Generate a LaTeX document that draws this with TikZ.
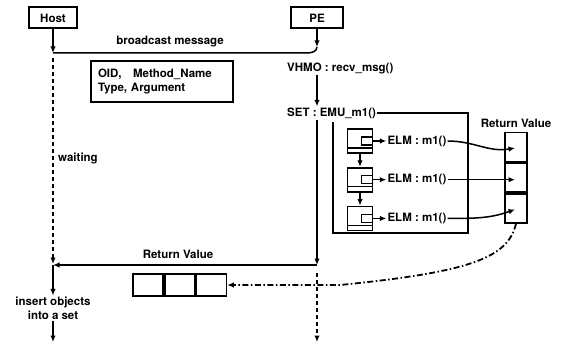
\documentclass[tikz,border=0pt]{standalone}
\usepackage{fontspec}
\setmainfont{TeX Gyre Heros}
\usetikzlibrary{positioning,calc,arrows.meta}

\begin{document}
\begin{tikzpicture}[
    x=1pt, y=-1pt,
    every node/.style={font=\fontsize{11.5}{14}\selectfont\bfseries, inner sep=1pt},
    head/.style={rectangle, draw, line width=2pt, minimum width=#1, minimum height=21pt},
    msgbox/.style={rectangle, draw, line width=2pt, align=left, text width=128pt,
                   inner xsep=7pt, inner ysep=8pt},
    frame/.style={line width=1.8pt},
    sbox/.style={rectangle, draw, line width=1.7pt, minimum width=25pt, minimum height=24pt,
                 path picture={
                   \draw[line width=1.3pt] ([yshift=5pt]path picture bounding box.south west)
                        -- ([yshift=5pt]path picture bounding box.south east);
                   \draw[line width=1.3pt] ([yshift=4pt]path picture bounding box.east)
                        -- ++(-11pt,0pt) -- ++(0pt,-8pt) -- ++(11pt,0pt);}},
    vcell/.style={rectangle, draw, line width=1.7pt, minimum width=22pt, minimum height=29pt},
    hcell/.style={rectangle, draw, line width=1.7pt, minimum width=30pt, minimum height=22pt},
    arr/.style={-{Latex[length=6.5pt,width=5.5pt]}, line width=1.5pt},
    plain/.style={line width=1.5pt},
    wait/.style={line width=2pt, dash pattern=on 4pt off 3pt},
    retn/.style={-{Latex[length=6.5pt,width=5.5pt]}, line width=1.8pt,
                 dash pattern=on 6pt off 2.5pt on 1.5pt off 2.5pt}
]
\useasboundingbox (0,0) rectangle (567,347);

% Lifeline heads
\node[head=48pt] (host) at (53,18) {Host};
\node[head=52pt] (pe) at (317,18) {PE};

% Broadcast from host to PE
\coordinate (hsend) at (53,53);
\coordinate (precv) at (317,47);
\draw[arr] (host) -- (hsend);
\draw[arr] (pe) -- (precv);
\draw[plain] (hsend) -- ($(hsend -| pe)+(-10,0)$) to[out=0,in=-90] (precv);
\node (bclbl) at (170,42) {broadcast message};
\node[msgbox, anchor=north west] (msg) at (90,60) {OID,\quad Method\_Name\\Type, Argument};

% PE side: receive and set
\node[anchor=west] (vhmo) at (286,68) {VHMO : recv\_msg()};
\node[anchor=west] (set) at (286,113) {SET : EMU\_m1()};
\draw[arr] (vhmo.south -| pe) -- (set.north -| pe);
\draw[frame] (set.east) -| (468,233) -| (333,122);

% Elements of the set
\node[sbox] (sb1) at (360,141) {};
\node[sbox, below=13pt of sb1] (sb2) {};
\node[sbox, below=13pt of sb2] (sb3) {};
\draw[arr] (sb1) -- (sb2);
\draw[arr] (sb2) -- (sb3);
\node[right=13pt of sb1] (elm1) {ELM : m1()};
\node[right=13pt of sb2] (elm2) {ELM : m1()};
\node[right=13pt of sb3] (elm3) {ELM : m1()};
\draw[arr] (sb1) -- (elm1);
\draw[arr] (sb2) -- (elm2);
\draw[arr] (sb3) -- (elm3);

% Return value column
\node[vcell] (rv1) at (516,147) {};
\node[vcell, anchor=north] (rv2) at (rv1.south) {};
\node[vcell, anchor=north] (rv3) at (rv2.south) {};
\node[above=3pt of rv1] (rvlbl) {Return Value};
\draw[arr] (elm1) to[out=0,in=190] ($(rv1.center)+(-1,1)$);
\draw[arr] (elm2) to[out=0,in=180] ($(rv2.center)+(-1,2)$);
\draw[arr] (elm3) to[out=0,in=200] ($(rv3.center)+(-1,1)$);

% Return to host
\coordinate (pret) at (317,265);
\coordinate (hret) at (53,265);
\coordinate (peend) at (317,342);
\coordinate (hend) at (53,342);
\draw[arr] (set.south -| pe) -- (pret);
\draw[arr] (pret) -- (hret);
\node (retlbl) at (178,254) {Return Value};
\draw[wait, -{Latex[length=6.5pt,width=5.5pt]}] ($(pret)+(0,8)$) -- (peend);

% Host waits and inserts
\draw[wait, -{Latex[length=6.5pt,width=5.5pt]}] ($(hsend)+(0,5)$) -- ($(hret)+(0,-1)$);
\node[anchor=west] (waitlbl) at (57,158) {waiting};
\node[align=center] (ins) at (53,308) {insert objects\\into a set};
\draw[arr] (hret) -- (ins);
\draw[arr] (ins) -- (hend);

% Returned objects
\node[hcell] (c1) at (148,285) {};
\node[hcell, anchor=west] (c2) at (c1.east) {};
\node[hcell, anchor=west] (c3) at (c2.east) {};
\draw[retn] (rv3.south) .. controls (508,258) and (470,272) .. (340,285) -- (c3.east);

\end{tikzpicture}
\end{document}
